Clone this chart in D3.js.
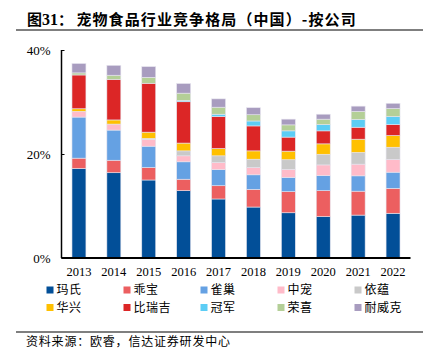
<!DOCTYPE html>
<html>
<head>
<meta charset="utf-8">
<style>
  body { margin: 0; background: #fff; }
  svg text { fill: #000; }
  .cjk { font-family: "Noto Sans CJK SC", sans-serif; }
  .num { font-family: "Liberation Serif", "DejaVu Serif", serif; }
</style>
<title>宠物食品行业竞争格局（中国）-按公司</title>
</head>
<body>
<script src="https://cdn.jsdelivr.net/npm/d3@7/dist/d3.min.js"></script>
<script>
// data (share, %)
var years = ["2013","2014","2015","2016","2017","2018","2019","2020","2021","2022"];
var companies = ["玛氏","乖宝","雀巢","中宠","依蕴","华兴","比瑞吉","冠军","荣喜","耐威克"];
var colors = ["#024f98","#ec5f60","#65a1e3","#ffbbc9","#c9c9c9","#ffc000","#dc2626","#5ccdf5","#b4cf97","#a89cbf"];

var mars     = [17.2, 16.4, 15.0, 12.95, 11.35, 9.8, 8.7, 7.95, 8.25, 8.6];
var gambol   = [2.0, 2.4, 2.4, 2.2, 2.55, 3.4, 4.05, 5.0, 4.6, 4.8];
var nestle   = [7.9, 5.8, 4.1, 3.35, 3.1, 2.8, 2.75, 2.9, 2.95, 3.1];
var wanpy    = [1.1, 1.15, 1.3, 1.15, 1.35, 1.4, 1.55, 2.05, 2.25, 2.45];
var yiyun    = [0, 0, 0.2, 0.95, 1.3, 1.6, 1.85, 2.05, 2.25, 2.35];
var huaxing  = [0.5, 0.8, 1.2, 1.5, 1.4, 1.6, 1.65, 2.0, 2.55, 2.25];
var biruiji  = [6.5, 7.8, 9.4, 7.95, 6.15, 4.8, 2.7, 2.5, 2.3, 2.1];
var guanjun  = [0, 0, 0, 0.25, 0.45, 0.95, 1.2, 1.2, 1.5, 1.55];
var rongxi   = [0.4, 0.8, 1.15, 1.4, 1.35, 1.2, 1.15, 1.05, 1.55, 1.55];
var nvk      = [1.8, 1.9, 2.05, 1.85, 1.6, 1.35, 1.1, 0.95, 1.0, 1.0];
var yTicks   = [0, 20, 40];

var series = [mars, gambol, nestle, wanpy, yiyun, huaxing, biruiji, guanjun, rongxi, nvk];

var w = 439, h = 352;
var svg = d3.select("body").append("svg")
  .attr("width", w).attr("height", h);

// title + rule
var title = svg.append("text").attr("x", 27).attr("y", 25)
  .style("font-weight", "bold").style("font-size", "15px");
title.append("tspan").attr("class", "cjk").text("图");
title.append("tspan").attr("class", "num").style("font-size", "16px").text("31");
title.append("tspan").attr("class", "cjk").text("：  ");
title.append("tspan").attr("class", "cjk").style("letter-spacing", "1.1px")
  .text("宠物食品行业竞争格局（中国）-按公司");
svg.append("line").attr("x1", 16).attr("x2", 423).attr("y1", 30).attr("y2", 30)
  .attr("stroke", "#555").attr("stroke-width", 1.5);

// scales
var x = d3.scaleBand().domain(years).range([61.5, 410.5]).paddingInner(0.6).paddingOuter(0.3);
var y = d3.scaleLinear().domain([0, 40]).range([258, 50]);

// stack
var table = years.map(function(yr, i) {
  var row = { year: yr };
  companies.forEach(function(c, k) { row[c] = series[k][i]; });
  return row;
});
var stacked = d3.stack().keys(companies)(table);

svg.append("g").selectAll("g")
  .data(stacked).enter().append("g")
  .attr("fill", function(d, k) { return colors[k]; })
  .selectAll("rect")
  .data(function(d) { return d; }).enter().append("rect")
  .attr("x", function(d) { return x(d.data.year); })
  .attr("width", x.bandwidth())
  .attr("y", function(d) { return y(d[1]); })
  .attr("height", function(d) { return y(d[0]) - y(d[1]); })
  .attr("stroke", "#e6e4ee").attr("stroke-width", 0.6);

// y axis
var yAxis = svg.append("g").attr("transform", "translate(61.5,0)")
  .call(d3.axisLeft(y).tickValues(yTicks).tickFormat(function(d) { return d + "%"; }).tickSize(-3).tickPadding(11));
yAxis.select(".domain").attr("stroke", "#000").attr("stroke-width", 1.5).attr("d", "M0," + y(40) + "V" + y(0));
yAxis.selectAll("text").attr("class", "num").style("font-size", "13px").attr("fill", "#000");

// x axis
var xAxis = svg.append("g").attr("transform", "translate(0,258)")
  .call(d3.axisBottom(x).tickSize(0).tickPadding(9));
xAxis.select(".domain").attr("stroke", "#000").attr("stroke-width", 1.8).attr("d", "M61.5,0H410.5");
xAxis.selectAll("text").attr("class", "num").style("font-size", "12.5px").attr("fill", "#000");

// legend
var legend = svg.append("g").selectAll("g")
  .data(companies).enter().append("g")
  .attr("transform", function(d, i) {
    return "translate(" + (46.5 + (i % 5) * 77) + "," + (i < 5 ? 290 : 307.5) + ")";
  });
legend.append("rect").attr("x", 0).attr("y", -3.5).attr("width", 7).attr("height", 7)
  .attr("fill", function(d, i) { return colors[i]; });
legend.append("text").attr("class", "cjk").attr("x", 10).attr("dy", "0.35em")
  .style("font-size", "12px").style("letter-spacing", "0.5px")
  .text(function(d) { return d; });

// source
svg.append("line").attr("x1", 16).attr("x2", 423).attr("y1", 332).attr("y2", 332)
  .attr("stroke", "#555").attr("stroke-width", 1.5);
svg.append("text").attr("class", "cjk").attr("x", 26).attr("y", 346)
  .style("font-size", "12px").style("letter-spacing", "0.8px")
  .text("资料来源：欧睿，信达证券研发中心");
</script>
</body>
</html>
